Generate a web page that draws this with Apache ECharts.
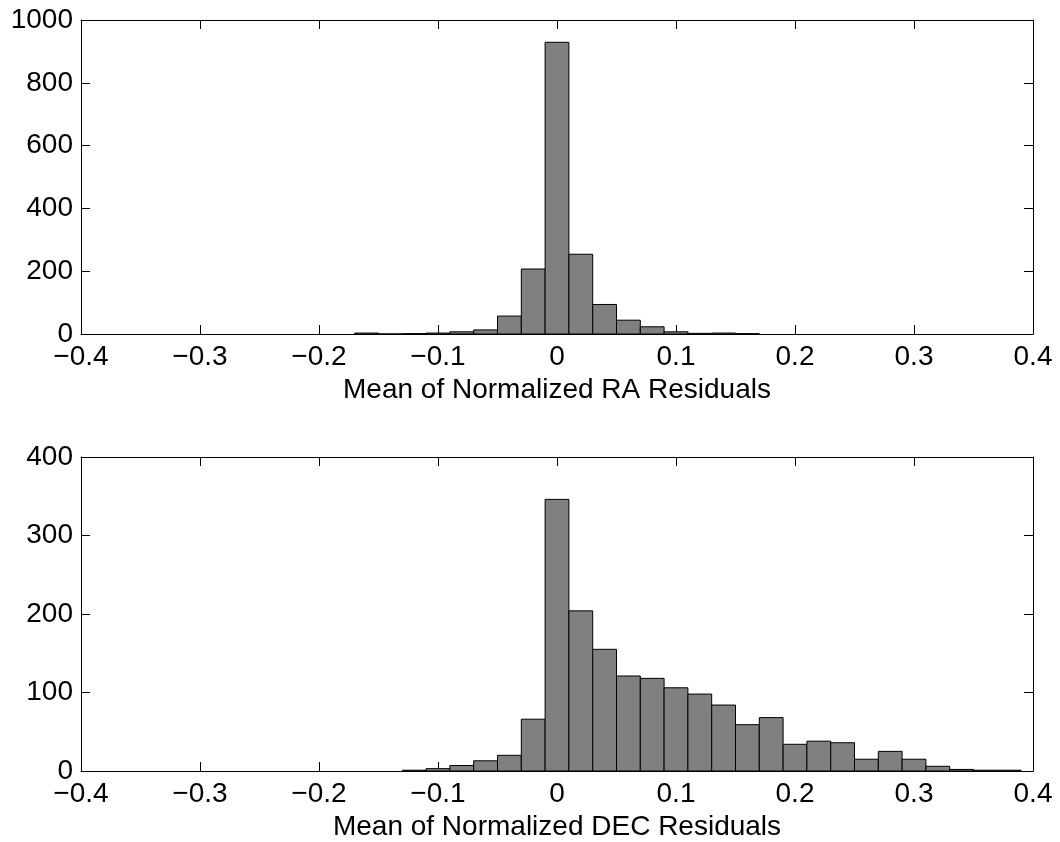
<!DOCTYPE html>
<html>
<head>
<meta charset="utf-8">
<script src="https://cdn.jsdelivr.net/npm/echarts@6/dist/echarts.min.js"></script>
<style>
html,body{margin:0;padding:0;background:#fff;}
#chart{width:1060px;height:842px;}
</style>
</head>
<body>
<div id="chart"></div>
<script>
// ---- data ----
const BIN_WIDTH = 0.02;
const raCenters = [-0.16,-0.14,-0.12,-0.10,-0.08,-0.06,-0.04,-0.02,0,0.02,0.04,0.06,0.08,0.10,0.12,0.14,0.16];
const raCounts  = [3,0,1,3,7,13,57,207,929,254,94,44,23,7,2,3,1];
const decCenters = [-0.12,-0.10,-0.08,-0.06,-0.04,-0.02,0,0.02,0.04,0.06,0.08,0.10,0.12,0.14,0.16,0.18,0.20,0.22,0.24,0.26,0.28,0.30,0.32,0.34,0.36,0.38];
const decCounts  = [1,3,7,13,20,66,346,204,155,121,118,106,98,84,59,68,34,38,36,15,25,15,6,2,1,1];
const xTicks = [-0.4,-0.3,-0.2,-0.1,0,0.1,0.2,0.3,0.4];
const raYTicks = [0,200,400,600,800,1000];
const decYTicks = [0,100,200,300,400];
const raTitle = 'Mean of Normalized RA Residuals';
const decTitle = 'Mean of Normalized DEC Residuals';

const FONT = 'Liberation Sans, Arial, Helvetica, sans-serif';
const FS = 28;

function fmtX(v){
  const r = Math.round(v*10)/10;
  if (r === 0) return '0';
  return (r < 0 ? '\u2212' : '') + Math.abs(r).toString();
}
function fmtY(v){ return String(Math.round(v)); }

function xAxisPair(gi, title){
  const base = {
    type:'value', gridIndex:gi, min:xTicks[0], max:xTicks[xTicks.length-1],
    interval:0.1,
    axisLine:{show:true, onZero:false, lineStyle:{color:'#000', width:1}},
    axisTick:{show:true, inside:true, length:9, lineStyle:{color:'#000'}},
    splitLine:{show:false}
  };
  return [
    Object.assign({}, base, {
      position:'bottom',
      axisLabel:{show:true, color:'#000', fontSize:FS, fontFamily:FONT, margin:9, formatter:fmtX},
      name:title, nameLocation:'middle', nameGap:42,
      nameTextStyle:{color:'#000', fontSize:FS, fontFamily:FONT}
    }),
    Object.assign({}, base, {position:'top', axisLabel:{show:false}})
  ];
}

function yAxisPair(gi, ticks){
  const base = {
    type:'value', gridIndex:gi, min:ticks[0], max:ticks[ticks.length-1],
    interval:ticks[1]-ticks[0],
    axisLine:{show:true, onZero:false, lineStyle:{color:'#000', width:1}},
    axisTick:{show:true, inside:true, length:9, lineStyle:{color:'#000'}},
    splitLine:{show:false}
  };
  return [
    Object.assign({}, base, {
      position:'left',
      axisLabel:{show:true, color:'#000', fontSize:FS, fontFamily:FONT, margin:8, formatter:fmtY}
    }),
    Object.assign({}, base, {position:'right', axisLabel:{show:false}})
  ];
}

function histSeries(xi, yi, centers, counts){
  return {
    type:'custom', xAxisIndex:xi, yAxisIndex:yi,
    data: centers.map((c,i)=>[c, counts[i]]),
    renderItem:function(params, api){
      const c = api.value(0), v = api.value(1);
      const p0 = api.coord([c - BIN_WIDTH/2, 0]);
      const p1 = api.coord([c + BIN_WIDTH/2, v]);
      return {
        type:'rect',
        shape:{x:p0[0], y:p1[1], width:p1[0]-p0[0], height:p0[1]-p1[1]},
        style:{fill:'#808080', stroke:'#000', lineWidth:1}
      };
    },
    silent:true, animation:false
  };
}

const chart = echarts.init(document.getElementById('chart'), null, {renderer:'canvas'});
const xa1 = xAxisPair(0, raTitle), xa2 = xAxisPair(1, decTitle);
const ya1 = yAxisPair(0, raYTicks), ya2 = yAxisPair(1, decYTicks);
chart.setOption({
  animation:false,
  backgroundColor:'#fff',
  grid:[
    {left:81, top:20, width:952, height:314, containLabel:false},
    {left:81, top:457, width:952, height:314, containLabel:false}
  ],
  xAxis:[xa1[0], xa1[1], xa2[0], xa2[1]],
  yAxis:[ya1[0], ya1[1], ya2[0], ya2[1]],
  series:[
    histSeries(0, 0, raCenters, raCounts),
    histSeries(2, 2, decCenters, decCounts)
  ]
});
</script>
</body>
</html>
